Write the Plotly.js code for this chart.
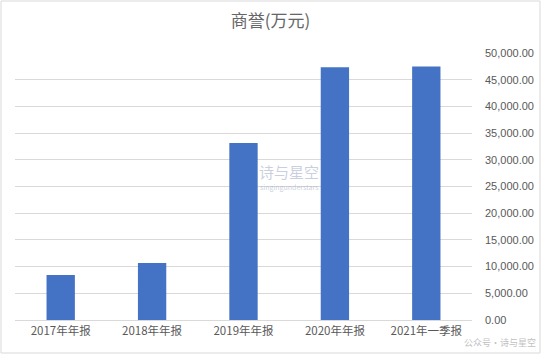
<!DOCTYPE html>
<html><head><meta charset="utf-8">
<script src="https://cdn.plot.ly/plotly-3.0.1.min.js"></script>
<style>html,body{margin:0;padding:0;background:#fff;}#c{width:541px;height:354px;}</style>
</head><body><div id="c"></div>
<script>
const categories = ["2017年年报","2018年年报","2019年年报","2020年年报","2021年一季报"];
const goodwill = [8430, 10680, 33150, 47330, 47480];
const yTicks = [0,5000,10000,15000,20000,25000,30000,35000,40000,45000,50000];

const trace = {
  type: "bar", x: categories, y: goodwill,
  marker: {color: "#4472C4"},
  hoverinfo: "x+y"
};
const layout = {
  width: 541, height: 354,
  margin: {l: 15, r: 69, t: 53, b: 34},
  paper_bgcolor: "#fff", plot_bgcolor: "#fff",
  bargap: 0.69,
  showlegend: false,
  title: {text: "商誉(万元)", x: 0.5, xanchor: "center", y: 0.94, yanchor: "middle",
          font: {family: "Noto Sans CJK SC, sans-serif", size: 17, color: "#666666"}},
  font: {family: "Noto Sans CJK SC, sans-serif", color: "#595959"},
  xaxis: {type: "category", showgrid: false, showline: true, linecolor: "#d9d9d9", linewidth: 1,
          ticks: "", tickfont: {size: 11.5, color: "#595959"}, fixedrange: true},
  yaxis: {side: "right", range: [0, 50000], tickvals: yTicks, tickformat: ",.2f",
          showgrid: true, gridcolor: "#d9d9d9", gridwidth: 1, zeroline: false, showline: false,
          ticks: "", ticklabelstandoff: 12,
          tickfont: {family: "Liberation Sans, sans-serif", size: 11, color: "#595959"}},
  shapes: [{type: "rect", xref: "paper", yref: "paper", x0: -14/457, x1: 1+68/457, y0: -33/267, y1: 1+52/267,
            line: {color: "#d9d9d9", width: 1}}],
  annotations: [
    {text: "诗与星空", xref: "paper", yref: "paper", x: 0.6, y: 0.555, showarrow: false,
     font: {size: 15, color: "rgba(150,160,190,0.5)"}},
    {text: "singingunderstars", xref: "paper", yref: "paper", x: 0.6, y: 0.5, showarrow: false,
     font: {size: 7, color: "rgba(150,160,190,0.5)"}},
    {text: "公众号·诗与星空", xref: "paper", yref: "paper", x: 1+66/457, y: -31/267, xanchor: "right", yanchor: "bottom", showarrow: false,
     font: {size: 9, color: "rgba(185,185,185,0.9)"}}
  ]
};
Plotly.newPlot("c", [trace], layout, {displayModeBar: false, staticPlot: true});
</script></body></html>
